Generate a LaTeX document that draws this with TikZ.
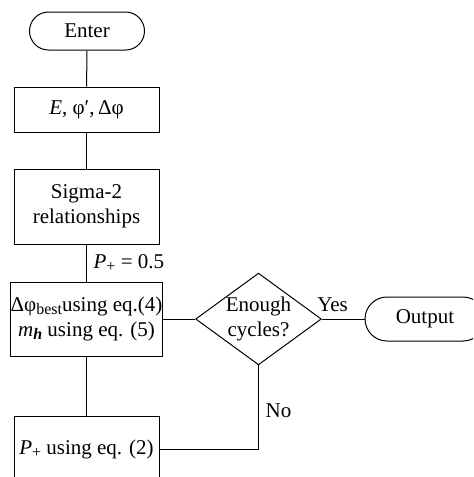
\documentclass[tikz,border=0pt]{standalone}
\usepackage{fontspec}
\setmainfont{Liberation Serif}
\usetikzlibrary{shapes.geometric}
\usetikzlibrary{shapes.misc}

\newcommand{\sub}[1]{\raisebox{-0.35ex}{\fontsize{8}{8}\selectfont #1}}

\begin{document}
\begin{tikzpicture}[
    x=0.5pt, y=-0.5pt,
    line width=0.5pt,
    font=\fontsize{10.5}{12.5}\selectfont,
    block/.style={draw, rectangle, minimum width=72.5pt, inner xsep=0pt, align=center},
    terminal/.style={draw, rounded rectangle, minimum height=19pt, inner sep=0},
    decision/.style={draw, diamond, aspect=1.37, minimum width=61pt, minimum height=44.5pt, inner sep=0, align=center}
  ]
  \useasboundingbox (0,0) rectangle (473,477);
  \clip (0,0) rectangle (473,477);
  \node[terminal, minimum width=57.5pt] (enter) at (87,31) {Enter};
  \node[block, minimum height=22.5pt] (params) at (86.5,109.5) {\textit{E}, φ′,\,Δφ}
    edge (enter);
  \node[block, minimum height=37.5pt] (sigma) at (86.5,206.5) {Sigma-2\\relationships}
    edge (params);
  \node[block, minimum height=37pt] (best) at (86.5,319)
    {Δφ\sub{best}using eq.(4)\\\textit{m}\sub{\textbf{\textit{h}}} using eq. (5)}
    edge node[right] {\textit{P}\sub{+} = 0.5} (sigma);
  \node[block, minimum height=33pt] (pplus) at (86.5,449) {\textit{P}\sub{+} using eq. (2)}
    edge (best);

  \node[decision] (cycles) at (258.5,319) {Enough\\cycles?}
    edge (best);
  \node[terminal, minimum width=60pt, minimum height=22pt] (output) at (425,319) {Output}
    edge node[pos=0.75, above] {Yes} (cycles);

  \draw (pplus) -| node[pos=0.73, right] {No} (cycles);
\end{tikzpicture}
\end{document}
